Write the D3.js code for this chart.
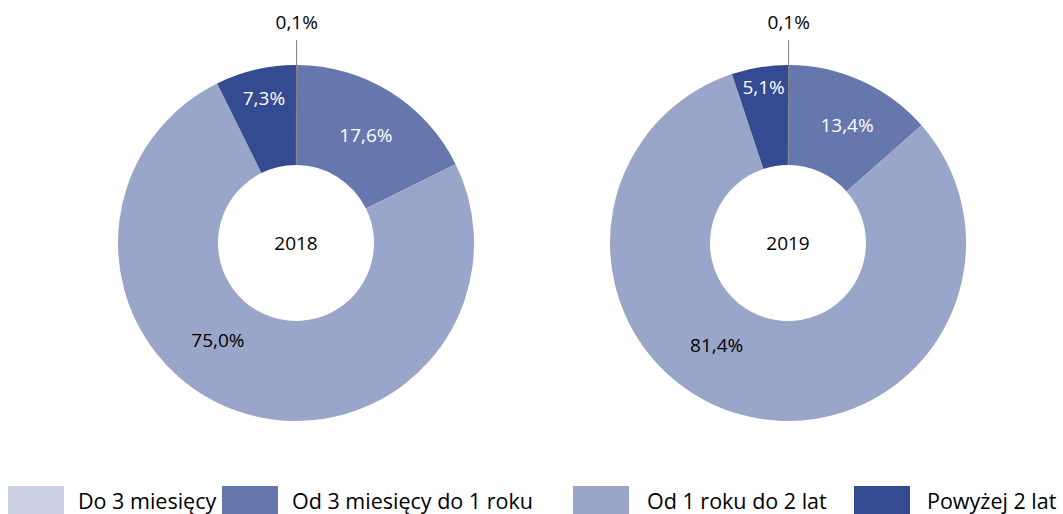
<!DOCTYPE html>
<html>
<head>
<meta charset="utf-8">
<script src="https://cdn.jsdelivr.net/npm/d3@7"></script>
<style>
  body { margin: 0; background: #fff; }
  svg text { font-family: "Open Sans", "Noto Sans", sans-serif; }
</style>
</head>
<body>
<div id="chart"></div>
<script>
// categories (clockwise from 12 o'clock)
const categories = ["Do 3 miesięcy", "Od 3 miesięcy do 1 roku", "Od 1 roku do 2 lat", "Powyżej 2 lat"];
const years = ["2018", "2019"];
const values2018 = [0.1, 17.6, 75.0, 7.3];
const values2019 = [0.1, 13.4, 81.4, 5.1];
const colors = ["#cbd0e4", "#6577ad", "#9aa6c9", "#344a91"];
const labelColors = ["#000", "#fff", "#000", "#fff"];

// layout
const width = 1063, height = 514;
const outerR = 178, innerR = 78;
const centers = [{x: 296, y: 243}, {x: 788, y: 243}];
// manual nudges of the data labels away from the arc centroid
const labelNudge = [
    [[0, 0], [2, 0], [-37, -24], [-3, -20]],
    [[0, 0], [6, -2], [-38, -22], [-4, -30]]
];

const fmt = v => v.toFixed(1).replace(".", ",") + "%";

const svg = d3.select("#chart")
    .append("svg")
    .attr("width", width)
    .attr("height", height);

const pie = d3.pie().sort(null).value(d => d);
const arc = d3.arc().innerRadius(innerR).outerRadius(outerR);

[values2018, values2019].forEach(function (vals, i) {
    const g = svg.append("g")
        .attr("transform", "translate(" + centers[i].x + "," + centers[i].y + ")");
    const arcs = pie(vals);

    g.selectAll("path")
        .data(arcs)
        .enter()
        .append("path")
        .attr("d", arc)
        .style("fill", (d, j) => colors[j]);

    // tiny first slice gets a leader line to a label above the ring
    const a0 = (arcs[0].startAngle + arcs[0].endAngle) / 2;
    g.append("line")
        .attr("x1", Math.sin(a0) * (outerR + 25))
        .attr("y1", -Math.cos(a0) * (outerR + 25))
        .attr("x2", Math.sin(a0) * innerR)
        .attr("y2", -Math.cos(a0) * innerR)
        .style("stroke", "#7f7f7f")
        .style("stroke-width", 1);

    g.append("text")
        .attr("x", Math.sin(a0) * (outerR + 43))
        .attr("y", -Math.cos(a0) * (outerR + 43))
        .attr("text-anchor", "middle")
        .attr("dominant-baseline", "central")
        .style("font-size", "19px")
        .style("fill", "#000")
        .text(fmt(vals[0]));

    g.selectAll("text.lbl")
        .data(arcs.slice(1))
        .enter()
        .append("text")
        .attr("class", "lbl")
        .attr("x", (d, j) => arc.centroid(d)[0] + labelNudge[i][j + 1][0])
        .attr("y", (d, j) => arc.centroid(d)[1] + labelNudge[i][j + 1][1])
        .attr("text-anchor", "middle")
        .attr("dominant-baseline", "central")
        .style("font-size", "19px")
        .style("fill", (d, j) => labelColors[j + 1])
        .text(d => fmt(d.data));

    g.append("text")
        .attr("text-anchor", "middle")
        .attr("dominant-baseline", "central")
        .style("font-size", "19px")
        .style("fill", "#000")
        .text(years[i]);
});

// legend
const swatchX = [8, 222, 573, 854];
const legendTextX = [78, 292, 647, 927];
const legend = svg.append("g");
categories.forEach(function (c, i) {
    legend.append("rect")
        .attr("x", swatchX[i])
        .attr("y", 486)
        .attr("width", 56)
        .attr("height", 28)
        .style("fill", colors[i]);
    legend.append("text")
        .attr("x", legendTextX[i])
        .attr("y", 500)
        .attr("dominant-baseline", "central")
        .style("font-size", "21.5px")
        .style("fill", "#000")
        .text(c);
});
</script>
</body>
</html>
